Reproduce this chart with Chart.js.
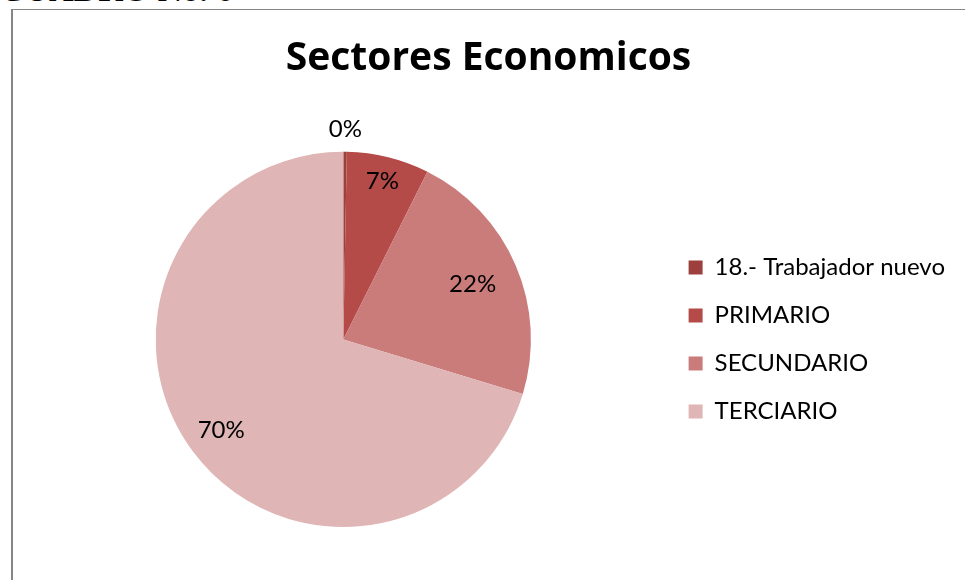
<!DOCTYPE html>
<html>
<head>
<meta charset="utf-8">
<script src="https://cdn.jsdelivr.net/npm/chart.js@4.4.1/dist/chart.umd.min.js"></script>
<style>
  html, body { margin: 0; padding: 0; background: #fff; overflow: hidden; }
  #page { position: relative; width: 965px; height: 580px; overflow: hidden; }
  #header {
    position: absolute; left: 0; top: -27px;
    font: bold 34px "Liberation Serif", serif; color: #000;
    line-height: 34px; white-space: nowrap;
  }
  #frame {
    position: absolute; left: 11px; top: 9px; width: 960px; height: 600px;
    border-top: 1px solid #868686; border-left: 2px solid #868686;
  }
  #chart { position: absolute; left: 22px; top: 0; }
</style>
</head>
<body>
<div id="page">
  <div id="header">CUADRO No. 6</div>
  <div id="frame"></div>
  <canvas id="chart" width="943" height="580"></canvas>
</div>
<script>
// Chart data
const sectors = ['18.- Trabajador nuevo', 'PRIMARIO', 'SECUNDARIO', 'TERCIARIO'];
const shares = [0.3, 7.1, 22.3, 70.3];

// Slice colours and where each percent label sits (fraction of the radius)
const sliceColors = ['#9c3f3d', '#b44b48', '#ca7c7b', '#dfb5b5'];
const labelRadius = [1.12, 0.87, 0.75, 0.81];

const fontFamily = 'Lato, "Open Sans", sans-serif';

// Draw the percent labels on (or next to) each slice
const percentLabels = {
    id: 'percentLabels',
    afterDatasetsDraw(chart) {
        const ctx = chart.ctx;
        const meta = chart.getDatasetMeta(0);
        const values = chart.data.datasets[0].data;
        const total = values.reduce((a, b) => a + b, 0);
        ctx.save();
        ctx.font = '24px ' + fontFamily;
        ctx.fillStyle = '#000';
        ctx.textAlign = 'center';
        ctx.textBaseline = 'middle';
        meta.data.forEach((arc, i) => {
            const p = arc.getProps(['x', 'y', 'startAngle', 'endAngle', 'outerRadius'], true);
            const mid = (p.startAngle + p.endAngle) / 2;
            const r = p.outerRadius * labelRadius[i];
            const pct = Math.round(values[i] / total * 100) + '%';
            ctx.fillText(pct, p.x + Math.cos(mid) * r, p.y + Math.sin(mid) * r);
        });
        ctx.restore();
    }
};

const ctx = document.getElementById('chart').getContext('2d');
new Chart(ctx, {
    type: 'pie',
    data: {
        labels: sectors,
        datasets: [{
            data: shares,
            backgroundColor: sliceColors,
            borderWidth: 0
        }]
    },
    options: {
        responsive: false,
        animation: false,
        layout: {
            padding: { left: 0, right: 10, top: 0, bottom: 53 }
        },
        plugins: {
            title: {
                display: true,
                text: 'Sectores Economicos',
                color: '#000',
                font: { family: '"Open Sans", sans-serif', size: 39, weight: 'bold' },
                padding: { top: 35, bottom: 70 }
            },
            legend: {
                position: 'right',
                fullSize: false,
                align: 'center',
                labels: {
                    color: '#000',
                    boxWidth: 14,
                    boxHeight: 14,
                    padding: 24,
                    font: { family: fontFamily, size: 24 }
                }
            },
            tooltip: { enabled: false }
        }
    },
    plugins: [percentLabels]
});
</script>
</body>
</html>
